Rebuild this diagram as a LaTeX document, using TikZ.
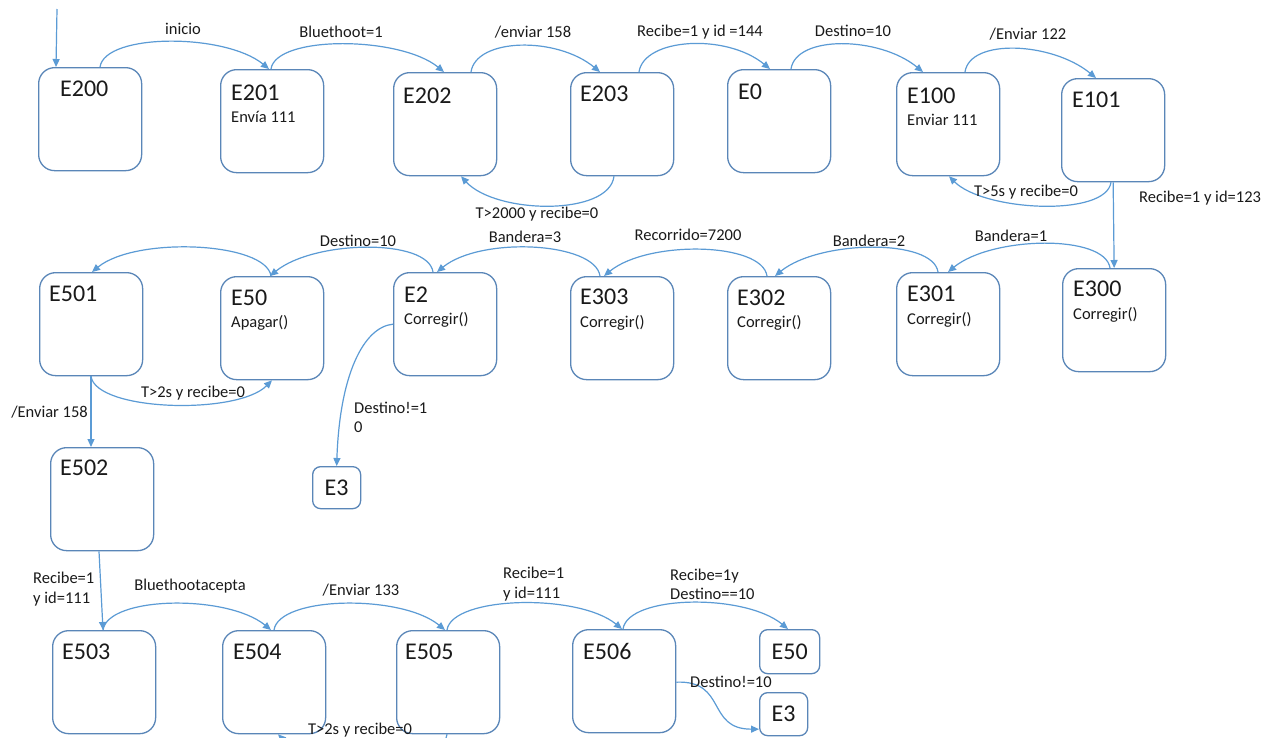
\documentclass[tikz,border=0pt]{standalone}
\usepackage{fontspec}
\setmainfont{Carlito}
\usetikzlibrary{arrows.meta}
\definecolor{boxline}{HTML}{5A86B8}
\definecolor{wire}{HTML}{5B9BD5}
\definecolor{ink}{HTML}{1A1A1A}
\begin{document}
\begin{tikzpicture}[x=1pt,y=-1pt,
  state/.style={draw=boxline, line width=1.3pt, rounded corners=16pt, anchor=north west,
    inner sep=0pt, minimum width=103pt, minimum height=103pt},
  mini/.style={state, rounded corners=8pt},
  big/.style={text=ink, font=\fontsize{24}{28}\selectfont, inner sep=0pt},
  small/.style={text=ink, font=\fontsize{16.5}{19}\selectfont, inner sep=0pt},
  lbl/.style={small, anchor=base},
  tr/.style={draw=wire, line width=1.2pt, -{Triangle[length=8pt,width=7pt]}},
  plain/.style={draw=wire, line width=1.2pt}]

% page
\fill[white] (0,0) rectangle (1279,737);
\clip (0,0) rectangle (1279,737);

% ---------- states, first row ----------
\node[state] (e200) at (38,67) {};
\node[state] (e201) at (220,69) {};
\node[state] (e202) at (393,72) {};
\node[state] (e203) at (570,72) {};
\node[state] (e0)   at (727,69) {};
\node[state] (e100) at (896,72) {};
\node[state] (e101) at (1061,78) {};

% ---------- states, second row ----------
\node[state] (e501) at (39,272) {};
\node[state] (e50)  at (220,276) {};
\node[state] (e2)   at (393,272) {};
\node[state] (e303) at (570,276) {};
\node[state] (e302) at (727,276) {};
\node[state] (e301) at (896,272) {};
\node[state] (e300) at (1062,268) {};

\node[mini, minimum width=48pt, minimum height=42pt] (e3) at (312,466) {};
\node[state] (e502) at (50,447) {};

% ---------- states, third row ----------
\node[state] (e503) at (52,630) {};
\node[state] (e504) at (222,630) {};
\node[state] (e505) at (396,630) {};
\node[state] (e506) at (572,629) {};
\node[mini, minimum width=60pt, minimum height=44pt] (e50b) at (759,629) {};
\node[mini, minimum width=48pt, minimum height=43pt] (e3b) at (759,692) {};

% ---------- state texts ----------
\node[big, anchor=base west] (t200) at (60,96) {E200};
\node[big, anchor=base west] (t201) at (231,100) {E201};
\node[small, anchor=base west] (a201) at (231,122.5) {Envía 111};
\node[big, anchor=base west] (t202) at (403,103) {E202};
\node[big, anchor=base west] (t203) at (580,101) {E203};
\node[big, anchor=base west] (t0) at (738,99) {E0};
\node[big, anchor=base west] (t100) at (907,103) {E100};
\node[small, anchor=base west] (a100) at (907,125.5) {Enviar 111};
\node[big, anchor=base west] (t101) at (1072,107) {E101};

\node[big, anchor=base west] (t501) at (49,301) {E501};
\node[big, anchor=base west] (t50) at (231,305) {E50};
\node[small, anchor=base west] (a50) at (231,327.5) {Apagar()};
\node[big, anchor=base west] (t2) at (404,302) {E2};
\node[small, anchor=base west] (a2) at (404,324.5) {Corregir()};
\node[big, anchor=base west] (t303) at (580,304) {E303};
\node[small, anchor=base west] (a303) at (580,327.5) {Corregir()};
\node[big, anchor=base west] (t302) at (737,305) {E302};
\node[small, anchor=base west] (a302) at (737,327.5) {Corregir()};
\node[big, anchor=base west] (t301) at (907,301) {E301};
\node[small, anchor=base west] (a301) at (907,324.5) {Corregir()};
\node[big, anchor=base west] (t300) at (1073,296) {E300};
\node[small, anchor=base west] (a300) at (1073,319.5) {Corregir()};

\node[big] (t3) at (e3.center) {E3};
\node[big, anchor=base west] (t502) at (60,475) {E502};

\node[big, anchor=base west] (t503) at (62,659) {E503};
\node[big, anchor=base west] (t504) at (233,659) {E504};
\node[big, anchor=base west] (t505) at (405,659) {E505};
\node[big, anchor=base west] (t506) at (583,659) {E506};
\node[big] (t50b) at (e50b.center) {E50};
\node[big] (t3b) at (e3b.center) {E3};

% ---------- transitions, first row ----------
\coordinate (start) at (57,9);
\draw[tr] (start) -- ([xshift=18pt]e200.north west);
\draw[tr] ([xshift=62pt]e200.north west) .. controls +(5,-34) and +(-44,-36) .. ([xshift=49pt]e201.north west);
\draw[tr] ([xshift=51pt]e201.north west) .. controls +(5,-34) and +(-44,-36) .. ([xshift=51pt]e202.north west);
\draw[tr] ([xshift=78pt]e202.north west) .. controls +(5,-34) and +(-44,-36) .. ([xshift=30pt]e203.north west);
\draw[tr] ([xshift=69pt]e203.north west) .. controls +(5,-34) and +(-44,-36) .. ([xshift=43pt]e0.north west);
\draw[tr] ([xshift=64pt]e0.north west) .. controls +(5,-34) and +(-44,-36) .. ([xshift=27pt]e100.north west);
\draw[tr] ([xshift=69pt]e100.north west) .. controls +(5,-34) and +(-44,-36) .. ([xshift=35pt]e101.north west);

\draw[tr] ([xshift=44pt]e203.south west) .. controls +(-5,40) and +(35,38) .. ([xshift=68pt]e202.south west);
\draw[tr] ([xshift=50pt]e101.south west) .. controls +(-5,35) and +(35,35) .. ([xshift=53pt]e100.south west);
\draw[tr] (e101.south) -- (e300.north);

% ---------- transitions, second row ----------
\draw[tr] ([xshift=48pt]e300.north west) .. controls +(-5,-34) and +(44,-36) .. ([xshift=52pt]e301.north west);
\draw[tr] ([xshift=42pt]e301.north west) .. controls +(-5,-34) and +(44,-36) .. ([xshift=48pt]e302.north west);
\draw[tr] ([xshift=40pt]e302.north west) .. controls +(-5,-34) and +(44,-36) .. ([xshift=34pt]e303.north west);
\draw[tr] ([xshift=30pt]e303.north west) .. controls +(-5,-34) and +(44,-36) .. ([xshift=44pt]e2.north west);
\draw[tr] ([xshift=40pt]e2.north west) .. controls +(-5,-34) and +(44,-36) .. ([xshift=50pt]e50.north west);
\draw[tr] ([xshift=51pt]e50.north west) .. controls +(-5,-34) and +(44,-36) .. ([xshift=53pt]e501.north west);

\draw[tr] ([xshift=52pt]e501.south west) .. controls +(5,35) and +(-35,35) .. ([xshift=52pt]e50.south west);
\draw[tr] ([xshift=52pt]e501.south west) -- ([xshift=52pt]e501.south west |- e502.north);
\draw[tr] (e2.west) .. controls +(-30,3) and +(3,-90) .. (e3.north);
\draw[tr] ([xshift=49pt]e502.south west) -- ([xshift=51pt]e503.north west);

% ---------- transitions, third row ----------
\draw[tr] ([xshift=51pt]e503.north west) .. controls +(5,-34) and +(-44,-36) .. ([xshift=49pt]e504.north west);
\draw[tr] ([xshift=52pt]e504.north west) .. controls +(5,-34) and +(-44,-36) .. ([xshift=49pt]e505.north west);
\draw[tr] ([xshift=51pt]e505.north west) .. controls +(5,-34) and +(-44,-36) .. ([xshift=50pt]e506.north west);
\draw[tr] ([xshift=51pt]e506.north west) .. controls +(5,-34) and +(-44,-36) .. ([xshift=29pt]e50b.north west);
\draw[tr] ([yshift=-1pt]e506.east) .. controls +(51,-2) and +(-53,0) .. ([yshift=-15pt]e3b.west);
\draw[tr] ([xshift=51pt]e505.south west) .. controls +(-5,35) and +(35,35) .. ([xshift=56pt]e504.south west);

% ---------- transition labels ----------
\node[lbl] (l1) at (183,34.5) {inicio};
\node[lbl] (l2) at (341,37.5) {Bluethoot=1};
\node[lbl] (l3) at (533,37.5) {/enviar 158};
\node[lbl] (l4) at (700,36.5) {Recibe=1 y id =144};
\node[lbl] (l5) at (853,36.5) {Destino=10};
\node[lbl] (l6) at (1028,39.5) {/Enviar 122};
\node[lbl] (l7) at (537,218.5) {T>2000 y recibe=0};
\node[lbl] (l8) at (1026,196.5) {T>5s y recibe=0};
\node[lbl, anchor=base west] (l9) at (1139,202.5) {Recibe=1 y id=123};

\node[lbl] (l10) at (1011,241.5) {Bandera=1};
\node[lbl] (l11) at (869,246.5) {Bandera=2};
\node[lbl] (l12) at (688,240.5) {Recorrido=7200};
\node[lbl] (l13) at (525,242.5) {Bandera=3};
\node[lbl] (l14) at (358,246.5) {Destino=10};
\node[lbl] (l15) at (193,397.5) {T>2s y recibe=0};
\node[lbl, anchor=base east] (l16) at (88,417.5) {/Enviar 158};
\node[lbl, anchor=base west] (l17a) at (354,413.5) {Destino!=1};
\node[lbl, anchor=base west] (l17b) at (354,432.5) {0};

\node[lbl, anchor=base west] (l18a) at (33,583.5) {Recibe=1};
\node[lbl, anchor=base west] (l18b) at (33,603.5) {y id=111};
\node[lbl] (l19) at (190,590.5) {Bluethootacepta};
\node[lbl] (l20) at (361,595.5) {/Enviar 133};
\node[lbl, anchor=base west] (l21a) at (503,578.5) {Recibe=1};
\node[lbl, anchor=base west] (l21b) at (503,598.5) {y id=111};
\node[lbl, anchor=base west] (l22a) at (670,580.5) {Recibe=1y};
\node[lbl, anchor=base west] (l22b) at (670,599.5) {Destino==10};
\node[lbl, anchor=base west] (l23) at (690,687.5) {Destino!=10};
\node[lbl] (l24) at (360,734.5) {T>2s y recibe=0};
\end{tikzpicture}
\end{document}
